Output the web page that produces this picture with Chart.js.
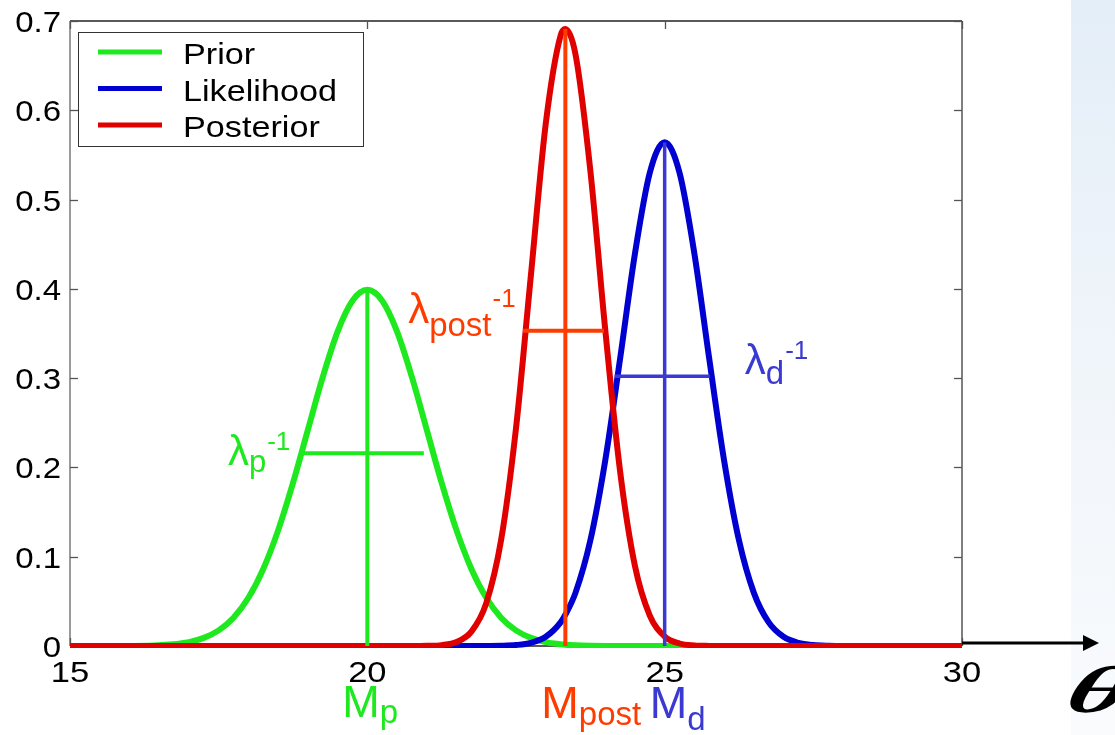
<!DOCTYPE html>
<html>
<head>
<meta charset="utf-8">
<script src="https://cdn.jsdelivr.net/npm/chart.js@4.4.0/dist/chart.umd.min.js"></script>
<style>
html, body { margin: 0; padding: 0; background: #fff; }
#wrap { width: 1115px; height: 735px; position: relative; }
</style>
</head>
<body>
<div id="wrap"><canvas id="c"></canvas></div>
<script>
// Parameter grid (theta) and the three densities sampled on it
const theta = [15, 15.5, 16, 16.5, 17, 17.25, 17.5, 17.75, 18, 18.25, 18.5, 18.75,
  19, 19.25, 19.5, 19.75, 20, 20.25, 20.5, 20.75, 21, 21.25, 21.5, 21.75,
  22, 22.25, 22.5, 22.75, 23, 23.25, 23.33, 23.5, 23.75, 24, 24.25, 24.5, 24.75,
  25, 25.25, 25.5, 25.75, 26, 26.25, 26.5, 26.75, 27, 27.25, 27.5, 27.75,
  28, 28.5, 29, 29.5, 30];

const prior = [0, 0, 0.0001, 0.0009, 0.0044, 0.0091, 0.0175, 0.0317, 0.054, 0.0863, 0.1295, 0.1826,
  0.242, 0.3011, 0.3521, 0.3867, 0.3989, 0.3867, 0.3521, 0.3011, 0.242, 0.1826, 0.1295, 0.0863,
  0.054, 0.0317, 0.0175, 0.0091, 0.0044, 0.002, 0.0015, 0.0009, 0.0004, 0.0001, 0, 0, 0,
  0, 0, 0, 0, 0, 0, 0, 0, 0, 0, 0, 0,
  0, 0, 0, 0, 0];

const likelihood = [0, 0, 0, 0, 0, 0, 0, 0, 0, 0, 0, 0,
  0, 0, 0, 0, 0, 0, 0, 0, 0, 0, 0, 0,
  0.0001, 0.0003, 0.0011, 0.0036, 0.0103, 0.0264, 0.0351, 0.0595, 0.1182, 0.2076, 0.3215, 0.4394, 0.53,
  0.5642, 0.53, 0.4394, 0.3215, 0.2076, 0.1182, 0.0595, 0.0264, 0.0103, 0.0036, 0.0011, 0.0003,
  0.0001, 0, 0, 0, 0];

const posterior = [0, 0, 0, 0, 0, 0, 0, 0, 0, 0, 0, 0,
  0, 0, 0, 0, 0, 0, 0, 0, 0.0002, 0.001, 0.0045, 0.0161,
  0.048, 0.1189, 0.2439, 0.4148, 0.5849, 0.6838, 0.691, 0.6628, 0.5326, 0.3548, 0.1959, 0.0897, 0.0341,
  0.0107, 0.0028, 0.0006, 0.0001, 0, 0, 0, 0, 0, 0, 0, 0,
  0, 0, 0, 0, 0];

const seriesNames = ['Prior', 'Likelihood', 'Posterior'];
const xTicks = [15, 20, 25, 30];
const yTicks = [0, 0.1, 0.2, 0.3, 0.4, 0.5, 0.6, 0.7];

// Mean markers and spread bars, in the order prior, likelihood, posterior
const markMean = [20, 25, 23.33];
const markPeak = [0.399, 0.564, 0.691];
const spreadY = [0.216, 0.302, 0.353];
const spreadFrom = [18.9, 24.16, 22.62];
const spreadTo = [20.95, 25.76, 23.98];

const curveColors = ['#1ee81e', '#0000d0', '#e00000'];
const markColors = ['#1ee81e', '#3a3ad2', '#ff3c00'];
const seriesValues = [prior, likelihood, posterior];
const SANS = '"Liberation Sans", Arial, sans-serif';

const datasets = [];
seriesValues.forEach((vals, i) => {
  datasets.push({
    label: seriesNames[i],
    data: theta.map((t, k) => ({ x: t, y: vals[k] })),
    borderColor: curveColors[i],
    borderWidth: 6,
    pointRadius: 0,
    cubicInterpolationMode: 'monotone',
    order: 5 - i,
    clip: { left: 0, top: 10, right: 0, bottom: 2 }
  });
});
markMean.forEach((m, i) => {
  datasets.push({
    label: 'mean-' + seriesNames[i],
    data: [{ x: m, y: 0 }, { x: m, y: markPeak[i] }],
    borderColor: markColors[i],
    borderWidth: i === 1 ? 3.5 : 4,
    pointRadius: 0,
    order: 1,
    clip: false
  });
  datasets.push({
    label: 'spread-' + seriesNames[i],
    data: [{ x: spreadFrom[i], y: spreadY[i] }, { x: spreadTo[i], y: spreadY[i] }],
    borderColor: markColors[i],
    borderWidth: i === 1 ? 3.5 : 4,
    pointRadius: 0,
    order: 1,
    clip: false
  });
});

function text(ctx, str, x, y, font, color, align, sx, skew) {
  ctx.save();
  ctx.font = font;
  ctx.fillStyle = color;
  ctx.textAlign = align || 'left';
  ctx.textBaseline = 'alphabetic';
  ctx.translate(x, y);
  ctx.transform(sx || 1, 0, skew || 0, 1, 0, 0);
  ctx.fillText(str, 0, 0);
  const w = ctx.measureText(str).width * (sx || 1);
  ctx.restore();
  return w;
}

// Symbol with subscript and optional superscript, e.g. λ_p^-1 or M_post
function symbolLabel(ctx, x, y, main, sub, sup, color, mainSize, subSize, subDrop, supSize, supRise) {
  const w = text(ctx, main, x, y, mainSize + 'px ' + SANS, color);
  const w2 = text(ctx, sub, x + w, y + subDrop, subSize + 'px ' + SANS, color);
  if (sup) text(ctx, sup, x + w + w2 + 1, y - supRise, supSize + 'px ' + SANS, color);
}

const framePlugin = {
  id: 'frame',
  beforeDraw(chart) {
    const ctx = chart.ctx;
    ctx.save();
    ctx.fillStyle = '#ffffff';
    ctx.fillRect(0, 0, chart.width, chart.height);
    const g = ctx.createLinearGradient(0, 0, 0, chart.height);
    g.addColorStop(0, '#e4eef8');
    g.addColorStop(0.5, '#f0f5fa');
    g.addColorStop(1, '#f9fbfd');
    ctx.fillStyle = g;
    ctx.fillRect(1071, 0, chart.width - 1071, chart.height);
    ctx.restore();
  },
  beforeDatasetsDraw(chart) {
    const ctx = chart.ctx;
    const a = chart.chartArea;
    const xs = chart.scales.x, ys = chart.scales.y;
    ctx.save();
    ctx.lineWidth = 1.5;
    // box
    ctx.strokeStyle = '#222';
    ctx.beginPath(); ctx.moveTo(a.left, a.top); ctx.lineTo(a.right, a.top); ctx.stroke();
    ctx.beginPath(); ctx.moveTo(a.left, a.bottom); ctx.lineTo(a.right, a.bottom); ctx.stroke();
    ctx.strokeStyle = '#7a7a7a';
    ctx.beginPath(); ctx.moveTo(a.left, a.top); ctx.lineTo(a.left, a.bottom); ctx.stroke();
    ctx.strokeStyle = '#555';
    ctx.beginPath(); ctx.moveTo(a.right, a.top); ctx.lineTo(a.right, a.bottom); ctx.stroke();
    // inward ticks
    ctx.lineWidth = 1.3;
    ctx.strokeStyle = '#555';
    yTicks.forEach(v => {
      const py = Math.round(ys.getPixelForValue(v)) + 0.5;
      ctx.beginPath(); ctx.moveTo(a.left, py); ctx.lineTo(a.left + 8, py); ctx.stroke();
      ctx.beginPath(); ctx.moveTo(a.right, py); ctx.lineTo(a.right - 8, py); ctx.stroke();
    });
    xTicks.forEach(v => {
      const px = Math.round(xs.getPixelForValue(v)) + 0.5;
      ctx.beginPath(); ctx.moveTo(px, a.top); ctx.lineTo(px, a.top + 8); ctx.stroke();
      ctx.beginPath(); ctx.moveTo(px, a.bottom); ctx.lineTo(px, a.bottom - 8); ctx.stroke();
    });
    ctx.restore();
    // tick labels
    yTicks.forEach(v => {
      const py = ys.getPixelForValue(v);
      text(ctx, String(v), a.left - 9, py + 11, '30px ' + SANS, '#000', 'right', 1.1);
    });
    xTicks.forEach(v => {
      const px = xs.getPixelForValue(v);
      text(ctx, String(v), px, a.bottom + 36, '30px ' + SANS, '#000', 'center', 1.15);
    });
  },
  afterDatasetsDraw(chart) {
    const ctx = chart.ctx;
    const a = chart.chartArea;
    const xs = chart.scales.x, ys = chart.scales.y;

    // legend
    ctx.save();
    ctx.fillStyle = '#fff';
    ctx.fillRect(a.left + 8, a.top + 11, 285, 114);
    ctx.strokeStyle = '#333';
    ctx.lineWidth = 1;
    ctx.strokeRect(a.left + 8.5, a.top + 11.5, 285, 114);
    ctx.restore();
    seriesNames.forEach((name, i) => {
      const ry = a.top + 31 + i * 36.5;
      ctx.save();
      ctx.strokeStyle = curveColors[i];
      ctx.lineWidth = 5;
      ctx.beginPath(); ctx.moveTo(a.left + 28, ry); ctx.lineTo(a.left + 92, ry); ctx.stroke();
      ctx.restore();
      text(ctx, name, a.left + 113, ry + 12, '30px ' + SANS, '#000', 'left', 1.14);
    });

    // mean labels under the axis
    const pM = xs.getPixelForValue(markMean[0]);
    const lM = xs.getPixelForValue(markMean[1]);
    const qM = xs.getPixelForValue(markMean[2]);
    symbolLabel(ctx, pM - 25, 717, 'M', 'p', null, markColors[0], 45, 33, 6);
    symbolLabel(ctx, qM - 24, 718, 'M', 'post', null, markColors[2], 45, 33, 7);
    symbolLabel(ctx, lM - 15, 718, 'M', 'd', null, markColors[1], 45, 33, 12);

    // spread labels beside the bars
    const pS = xs.getPixelForValue(spreadFrom[0]);
    const qS = xs.getPixelForValue(spreadFrom[2]);
    const lE = xs.getPixelForValue(spreadTo[1]);
    symbolLabel(ctx, pS - 74, ys.getPixelForValue(spreadY[0]) + 12, '\u03bb', 'p', '-1', markColors[0], 42, 31, 7, 26, 15);
    symbolLabel(ctx, qS - 115, ys.getPixelForValue(spreadY[2]) - 8, '\u03bb', 'post', '-1', markColors[2], 42, 33, 13, 26, 16);
    symbolLabel(ctx, lE + 35, ys.getPixelForValue(spreadY[1]) - 2, '\u03bb', 'd', '-1', markColors[1], 42, 33, 10, 26, 15);

    // theta axis arrow
    ctx.save();
    const ay = a.bottom - 3;
    ctx.strokeStyle = '#000';
    ctx.fillStyle = '#000';
    ctx.lineWidth = 3;
    ctx.beginPath(); ctx.moveTo(a.right, ay); ctx.lineTo(1086, ay); ctx.stroke();
    ctx.beginPath(); ctx.moveTo(1099, ay); ctx.lineTo(1083, ay - 8); ctx.lineTo(1083, ay + 8); ctx.closePath(); ctx.fill();
    ctx.restore();
    text(ctx, '\u03b8', 1062, 712, 'bold italic 66px "Liberation Serif", "Times New Roman", serif', '#000', 'left', 1.75, -0.35);
  }
};

new Chart(document.getElementById('c'), {
  type: 'line',
  data: { datasets },
  options: {
    responsive: true,
    maintainAspectRatio: false,
    animation: false,
    devicePixelRatio: 1,
    layout: { padding: { left: 70, top: 21, right: 153, bottom: 89 } },
    scales: {
      x: { type: 'linear', min: 15, max: 30, display: false },
      y: { min: 0, max: 0.7, display: false }
    },
    plugins: { legend: { display: false }, tooltip: { enabled: false } }
  },
  plugins: [framePlugin]
});
</script>
</body>
</html>
